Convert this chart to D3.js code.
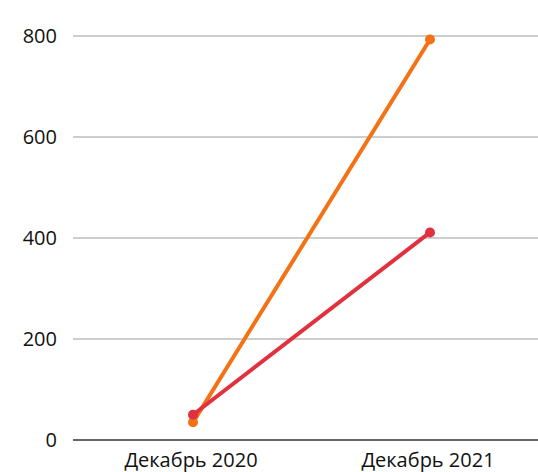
<!DOCTYPE html>
<html><head><meta charset="utf-8">
<script src="https://cdn.jsdelivr.net/npm/d3@7"></script>
<style>body{margin:0;background:#fff;}svg{display:block;font-family:"Open Sans","Noto Sans",sans-serif;}</style>
</head><body><svg id="c" width="538" height="472"></svg>
<script>
const categories = ["Декабрь 2020", "Декабрь 2021"];
const seriesOrange = [35, 793];
const seriesRed = [50, 411];
const yTicks = [0, 200, 400, 600, 800];

const svg = d3.select("#c");
const x = d3.scalePoint().domain(categories).range([193, 430]);
const y = d3.scaleLinear().domain([0, 800]).range([440, 36]);
const left = 73, right = 538;

svg.append("g").selectAll("line").data(yTicks.filter(d => d > 0)).join("line")
  .attr("x1", left).attr("x2", right).attr("y1", d => y(d)).attr("y2", d => y(d))
  .attr("stroke", "#bdbdbd").attr("stroke-width", 1.3);
svg.append("line").attr("x1", left).attr("x2", right).attr("y1", y(0)).attr("y2", y(0))
  .attr("stroke", "#666").attr("stroke-width", 2);

svg.append("g").selectAll("text").data(yTicks).join("text")
  .attr("x", 57).attr("y", d => y(d) + 7).attr("text-anchor", "end")
  .attr("font-size", 20).attr("fill", "#111").text(d => d);

svg.append("g").selectAll("text").data(categories).join("text")
  .attr("x", d => x(d) - 2).attr("y", 467).attr("text-anchor", "middle")
  .attr("font-size", 20).attr("fill", "#111").text(d => d);

const line = d3.line().x((d, i) => x(categories[i])).y(d => y(d));
function drawSeries(vals, color) {
  svg.append("path").datum(vals).attr("d", line).attr("fill", "none")
    .attr("stroke", color).attr("stroke-width", 4).attr("stroke-linecap", "round");
  svg.append("g").selectAll("circle").data(vals).join("circle")
    .attr("cx", (d, i) => x(categories[i])).attr("cy", d => y(d)).attr("r", 5).attr("fill", color);
}
drawSeries(seriesOrange, "#f47216");
drawSeries(seriesRed, "#e0313e");
</script></body></html>
